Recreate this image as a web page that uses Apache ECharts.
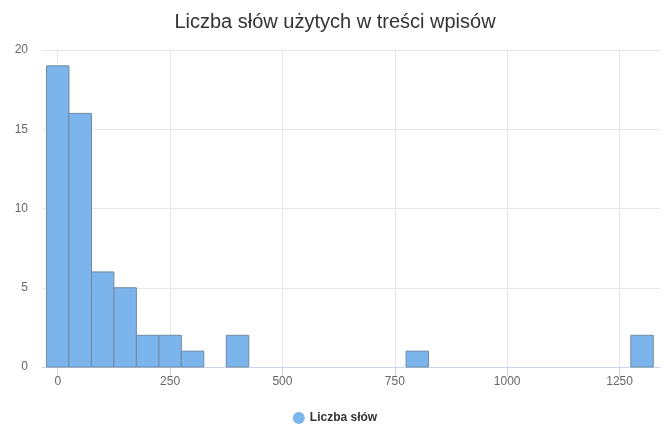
<!DOCTYPE html>
<html>
<head>
<meta charset="utf-8">
<script src="https://cdn.jsdelivr.net/npm/echarts@6/dist/echarts.min.js"></script>
<style>
html,body{margin:0;padding:0;background:#fff;}
#main{width:670px;height:447px;}
</style>
</head>
<body>
<div id="main"></div>
<script>
const titleText = 'Liczba słów użytych w treści wpisów';
const seriesName = 'Liczba słów';
const binCenters = [0, 50, 100, 150, 200, 250, 300, 400, 800, 1300];
const binCounts = [19, 16, 6, 5, 2, 2, 1, 2, 1, 2];
const binWidth = 50;
const xTicks = [0, 250, 500, 750, 1000, 1250];

const data = binCenters.map((c, i) => [c, binCounts[i]]);
const font = '"Liberation Sans", Arial, Helvetica, sans-serif';

const chart = echarts.init(document.getElementById('main'));
chart.setOption({
  animation: false,
  textStyle: { fontFamily: font },
  title: {
    text: titleText,
    left: 'center',
    top: 7,
    textStyle: { fontFamily: font, fontSize: 20, fontWeight: 'normal', color: '#333333' }
  },
  legend: {
    bottom: 18,
    left: 'center',
    icon: 'circle',
    itemWidth: 12,
    itemHeight: 12,
    itemGap: 8,
    textStyle: { fontFamily: font, fontSize: 12, fontWeight: 'bold', color: '#333333' },
    data: [seriesName]
  },
  grid: { left: 42, right: 10, top: 50, bottom: 80, containLabel: false },
  xAxis: {
    type: 'value',
    min: -35,
    max: 1340,
    axisLine: { show: true, lineStyle: { color: '#ccd6eb' } },
    axisTick: { show: true, length: 10, lineStyle: { color: '#ccd6eb' }, customValues: xTicks },
    axisLabel: { customValues: xTicks, color: '#666666', fontSize: 12, fontFamily: font, margin: 9,
      formatter: function (v) { return String(v); } },
    splitLine: { show: true, lineStyle: { color: '#e6e6e6' } }
  },
  yAxis: {
    type: 'value',
    min: 0,
    max: 20,
    interval: 5,
    axisLine: { show: false },
    axisTick: { show: false },
    axisLabel: { color: '#666666', fontSize: 12, fontFamily: font, margin: 14 },
    splitLine: { show: true, lineStyle: { color: '#e6e6e6' } }
  },
  series: [{
    name: seriesName,
    type: 'custom',
    itemStyle: { color: '#7cb5ec' },
    encode: { x: 0, y: 1 },
    data: data,
    renderItem: function (params, api) {
      const x = api.value(0), y = api.value(1);
      const p0 = api.coord([x - binWidth / 2, y]);
      const p1 = api.coord([x + binWidth / 2, 0]);
      return {
        type: 'rect',
        shape: { x: p0[0], y: p0[1], width: p1[0] - p0[0], height: p1[1] - p0[1] },
        style: { fill: '#7cb5ec', stroke: '#6f8aa5', lineWidth: 1 }
      };
    }
  }]
});
</script>
</body>
</html>
